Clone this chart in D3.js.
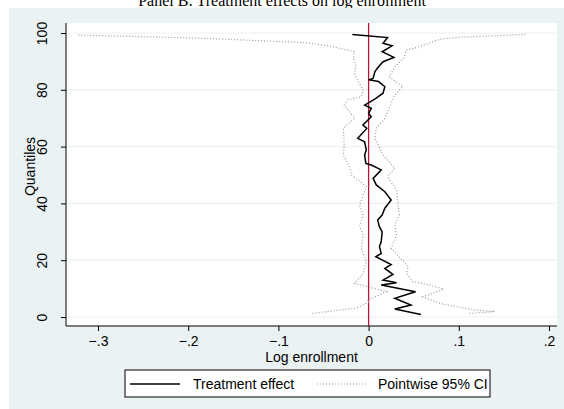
<!DOCTYPE html>
<html><head><meta charset="utf-8">
<script src="https://cdn.jsdelivr.net/npm/d3@7"></script>
<style>body{margin:0;background:#fff}svg{display:block}text{font-family:"Liberation Sans",Arial,sans-serif}</style>
</head><body><svg id="c" width="564" height="409"></svg>
<script>
const titleText = "Panel B: Treatment effects on log enrollment";
const xTicks = [-0.3, -0.2, -0.1, 0, 0.1, 0.2];
const xTickLabels = ["\u2212.3", "\u2212.2", "\u2212.1", "0", ".1", ".2"];
const yTicks = [0, 20, 40, 60, 80, 100];
const yTickLabels = ["0", "20", "40", "60", "80", "100"];
const legendLabels = ["Treatment effect", "Pointwise 95% CI"];

const teQ = [0.9,2.8,4.2,6.6,8.9,11.3,12.1,13.0,15.0,17.1,18.5,21.2,22.4,24.8,26.5,30.0,31.8,34.2,35.9,38.3,41.2,44.1,46.5,48.8,51.8,53.5,54.1,57.0,58.8,61.7,62.9,66.4,67.6,70.5,71.7,73.5,74.6,76.4,77.0,78.8,81.1,82.9,83.5,84.0,86.4,88.1,89.9,91.4,93.4,95.5,96.4,98.4,99.5];
const teVal = [0.058,0.029,0.047,0.029,0.052,0.014,0.031,0.016,0.027,0.018,0.025,0.008,0.014,0.012,0.014,0.015,0.012,0.010,0.015,0.018,0.025,0.018,0.0085,0.005,0.014,0.003,-0.003,-0.0044,-0.0026,-0.0044,-0.012,-0.002,-0.0063,0.003,0.000,0.003,-0.0044,0.005,0.008,0.016,0.018,0.011,0.000,0.005,0.007,0.011,0.016,0.028,0.015,0.026,0.016,0.021,-0.018];

const loQ = [1.3,3.1,5.4,6.0,8.9,11.9,15.4,19.5,24.2,28.9,31.8,35.9,39.4,45.9,50.0,52.9,57.0,60.6,66.4,70.0,74.6,76.4,77.6,79.9,85.2,88.7,91.1,93.4,95.2,96.6,98.1,99.3];
const loVal = [-0.062,-0.014,0.001,-0.001,0.020,-0.0155,-0.006,-0.0026,-0.008,-0.006,-0.010,-0.006,-0.010,-0.0026,-0.019,-0.021,-0.028,-0.027,-0.028,-0.0155,-0.027,-0.023,-0.008,-0.006,-0.0155,-0.014,-0.017,-0.0155,-0.040,-0.069,-0.18,-0.324];

const hiQ = [1.3,1.9,2.5,4.8,7.1,9.8,11.9,12.4,15.4,17.7,24.2,28.9,32.4,35.9,44.7,49.4,52.4,57.0,62.9,66.4,70.0,75.2,78.2,81.1,84.6,88.1,91.1,94.0,95.2,96.9,97.8,98.5,98.9,99.5];
const hiVal = [0.112,0.140,0.116,0.079,0.060,0.083,0.060,0.049,0.042,0.044,0.025,0.031,0.029,0.034,0.031,0.021,0.029,0.016,0.007,0.0085,0.018,0.025,0.029,0.038,0.023,0.029,0.039,0.042,0.0565,0.071,0.079,0.101,0.130,0.174];

const svg = d3.select("#c");
const L = 66, R = 557, T = 23, B = 326;
const FS = "14px";
const x = d3.scaleLinear().domain([-0.3, 0.2]).range([98, 549]);
const y = d3.scaleLinear().domain([0, 100]).range([317, 33]);

// title (cut off at top, as in the reference)
svg.append("text").attr("x", 282).attr("y", 6).attr("text-anchor", "middle")
  .style("font-family", "'Liberation Serif','Times New Roman',serif").style("font-size", "16px").text(titleText);

// graph region background
svg.append("rect").attr("x", 9).attr("y", 8).attr("width", 564 - 9).attr("height", 409 - 8).attr("fill", "#EAF2F3");
// plot region
svg.append("rect").attr("x", L).attr("y", T).attr("width", R - L).attr("height", B - T).attr("fill", "#fff");

// gridlines
svg.append("g").selectAll("line").data(yTicks).join("line")
  .attr("x1", L).attr("x2", R).attr("y1", d => y(d)).attr("y2", d => y(d))
  .attr("stroke", "#EAF2F3").attr("stroke-width", 1.2);

// axes
const yAxis = svg.append("g").attr("transform", `translate(${L},0)`)
  .call(d3.axisLeft(y).tickValues(yTicks).tickFormat((d, i) => yTickLabels[i]).tickSize(5).tickSizeOuter(0));
yAxis.select(".domain").attr("d", `M0,${T}V${B}`).attr("stroke", "#000");
yAxis.selectAll(".tick line").attr("stroke", "#000");
yAxis.selectAll(".tick text").attr("transform", "rotate(-90)").attr("x", 0).attr("y", -19).attr("dy", 0)
  .attr("text-anchor", "middle").style("font-size", FS).attr("fill", "#000");

const xAxis = svg.append("g").attr("transform", `translate(0,${B})`)
  .call(d3.axisBottom(x).tickValues(xTicks).tickFormat((d, i) => xTickLabels[i]).tickSize(5).tickSizeOuter(0));
xAxis.select(".domain").attr("d", `M${L},0H${R}`).attr("stroke", "#000");
xAxis.selectAll(".tick line").attr("stroke", "#000");
xAxis.selectAll(".tick text").attr("y", 20).attr("dy", 0).style("font-size", FS).attr("fill", "#000");

// axis titles
svg.append("text").attr("x", (L + R) / 2).attr("y", 362).attr("text-anchor", "middle").style("font-size", FS).text("Log enrollment");
svg.append("text").attr("transform", `translate(35,${(T + B) / 2 - 8}) rotate(-90)`).attr("text-anchor", "middle").style("font-size", FS).text("Quantiles");

// zero line
svg.append("line").attr("x1", x(0)).attr("x2", x(0)).attr("y1", T).attr("y2", B)
  .attr("stroke", "#B8143C").attr("stroke-width", 1.3);

const line = (qs, vs) => d3.line().x((d, i) => x(vs[i])).y((d, i) => y(qs[i]))(qs);
svg.append("path").attr("d", line(loQ, loVal)).attr("fill", "none").attr("stroke", "#999").attr("stroke-width", 1.2).attr("stroke-dasharray", "1,2");
svg.append("path").attr("d", line(hiQ, hiVal)).attr("fill", "none").attr("stroke", "#999").attr("stroke-width", 1.2).attr("stroke-dasharray", "1,2");
svg.append("path").attr("d", line(teQ, teVal)).attr("fill", "none").attr("stroke", "#000").attr("stroke-width", 1.5);

// legend
const lg = svg.append("g");
lg.append("rect").attr("x", 125).attr("y", 370).attr("width", 365).attr("height", 27).attr("fill", "#fff").attr("stroke", "#000").attr("stroke-width", 1);
lg.append("line").attr("x1", 130).attr("x2", 180).attr("y1", 384).attr("y2", 384).attr("stroke", "#000").attr("stroke-width", 1.5);
lg.append("text").attr("x", 193).attr("y", 389).style("font-size", FS).text(legendLabels[0]);
lg.append("line").attr("x1", 317).attr("x2", 368).attr("y1", 384).attr("y2", 384).attr("stroke", "#999").attr("stroke-width", 1.2).attr("stroke-dasharray", "1,2");
lg.append("text").attr("x", 378).attr("y", 389).style("font-size", FS).text(legendLabels[1]);
</script></body></html>
